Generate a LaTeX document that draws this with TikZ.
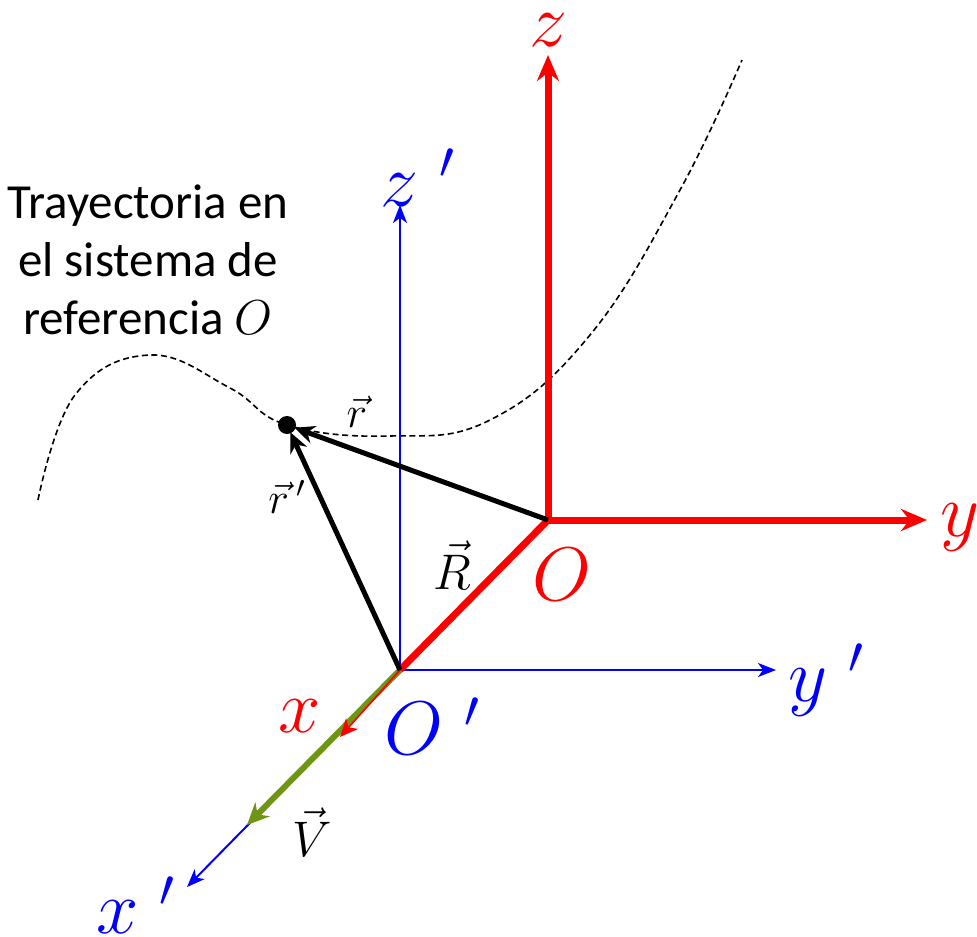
\RequirePackage{fix-cm}
\documentclass[tikz,border=0pt]{standalone}
\usepackage{fontspec}
\newfontfamily\calfont{Carlito}
\usetikzlibrary{arrows.meta}
\definecolor{vgreen}{RGB}{110,150,20}
\begin{document}
\begin{tikzpicture}[x=0.5pt,y=-0.5pt,
  biglab/.style={font=\fontsize{38}{40}\selectfont, inner sep=0pt},
  veclab/.style={font=\fontsize{22}{24}\selectfont, inner sep=0pt},
  redax/.style={red, line width=3.5pt, -{Stealth[length=13pt,width=11pt]}},
  blueax/.style={blue, line width=1pt, -{Stealth[length=9pt,width=7pt,inset=2.5pt]}},
  vecarrow/.style={black, line width=2.5pt, -{Stealth[length=10pt,width=9pt]}}]
\useasboundingbox (0,0) rectangle (977,936);
\coordinate (O) at (548,520);
\coordinate (Op) at (400,670);
\coordinate (P) at (287,425);
\coordinate (zt) at (548,55);
\coordinate (yt) at (927,520);
\coordinate (zpt) at (400,205);
\coordinate (ypt) at (776,670);
\coordinate (xpt) at (187,887);
\coordinate (xt) at (340,737);
\coordinate (Vt) at (247,825);
% trajectory
\draw[dashed, dash pattern=on 3pt off 1.8pt, line width=0.8pt] plot[smooth, tension=0.7] coordinates {(38,500) (75,395) (150,355) (230,388) (287,425) (390,436) (490,420) (590,335) (680,190) (742,60)};
% primed system
\draw[blueax] (Op) -- (zpt);
\draw[blueax] (Op) -- (ypt);
\draw[blueax] (Op) -- (xpt);
% unprimed system
\draw[redax] (O) -- (zt);
\draw[redax] (O) -- (yt);
\draw[red, line width=3.5pt] (O) -- (Op);
\draw[vgreen, line width=3pt, -{Stealth[length=11pt,width=10pt]}] (Op) -- (Vt);
\draw[red, line width=0.8pt, -{Stealth[length=9pt,width=8pt,inset=2.5pt]}] (Op) -- (xt);
% vectors
\draw[vecarrow, shorten >=4pt] (O) -- (P);
\draw[vecarrow, shorten >=4pt] (Op) -- (P);
\fill (P) circle (4.5pt);
% labels
\node[biglab, red] (lz) at (548,30) {$z$};
\node[biglab, red] (ly) at (960,528) {$y$};
\node[biglab, red] (lO) at (562,575) {$O$};
\node[biglab, red] (lx) at (300,716) {$x$};
\node[biglab, blue] (lzp) at (418,178) {$z\;^{\prime}$};
\node[biglab, blue] (lyp) at (826,680) {$y\;^{\prime}$};
\node[biglab, blue] (lOp) at (432,726) {$O\;^{\prime}$};
\node[biglab, blue] (lxp) at (136,905) {$x\;^{\prime}$};
\node[veclab] (lr) at (357,412) {$\vec{r}$};
\node[veclab] (lrp) at (287,497) {$\vec{r}\,{}^{\prime}$};
\node[veclab, font=\fontsize{25}{27}\selectfont] (lR) at (452,565) {$\vec{R}$};
\node[veclab, font=\fontsize{25}{27}\selectfont] (lV) at (312,832) {$\vec{V}$};
\node[align=center, inner sep=0pt, font=\calfont\fontsize{24.5}{29}\selectfont] (txt) at (148,260) {Trayectoria en\\el sistema de\\referencia $O$};
\end{tikzpicture}
\end{document}
